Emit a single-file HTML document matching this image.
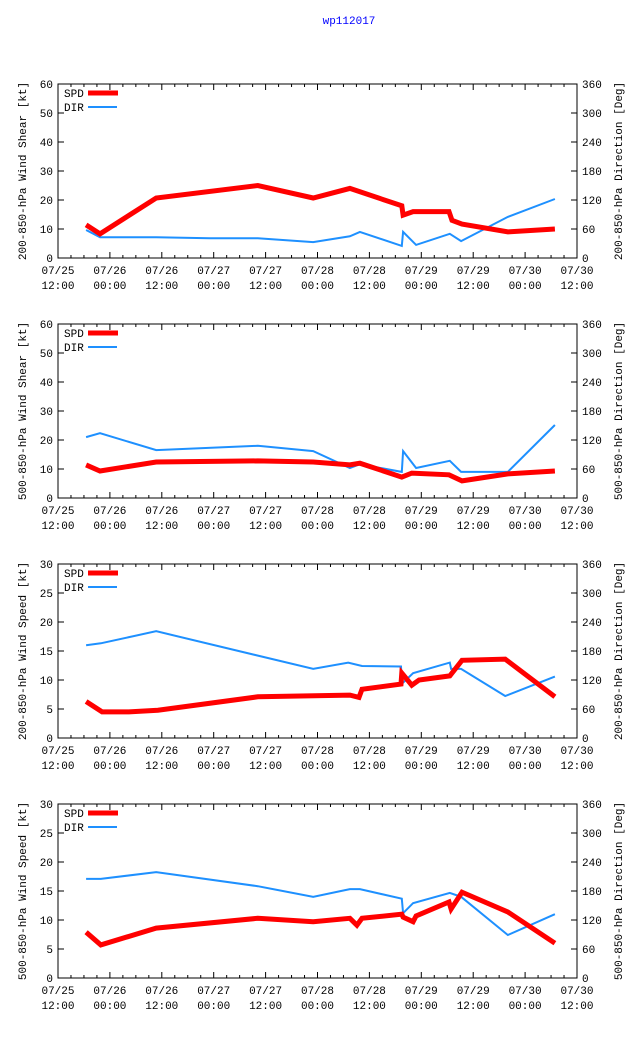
<!DOCTYPE html>
<html><head><meta charset="utf-8"><style>
body{margin:0;background:#fff;}
svg{display:block;font-family:"Liberation Mono","DejaVu Sans Mono",monospace;font-size:11px;}
</style></head><body>
<svg id="chart" width="640" height="1060" viewBox="0 0 640 1060">
<rect width="640" height="1060" fill="#fff"/>
<text x="349" y="24" text-anchor="middle" fill="#0000ff">wp112017</text>
</svg>
<script>
// x tick labels (every 12h from 07/25 12:00)
const xTickDates = ["07/25","07/26","07/26","07/27","07/27","07/28","07/28","07/29","07/29","07/30","07/30"];
const xTickTimes = ["12:00","00:00","12:00","00:00","12:00","00:00","12:00","00:00","12:00","00:00","12:00"];
const leftTitles = ["200-850-hPa Wind Shear [kt]","500-850-hPa Wind Shear [kt]","200-850-hPa Wind Speed [kt]","500-850-hPa Wind Speed [kt]"];
const rightTitles = ["200-850-hPa Direction [Deg]","500-850-hPa Direction [Deg]","200-850-hPa Direction [Deg]","500-850-hPa Direction [Deg]"];
const leftMax = [60,60,30,30];
const leftStep = [10,10,5,5];
// hours after 07/25 12:00
const spd1T = [6.5,9.7,22.7,46.2,59.0,67.5,79.5,79.8,82.1,90.4,91.1,93.4,104.0,114.9];
const spd1V = [11.4,8.3,20.7,25,20.7,24,18,14.8,16,16,13,11.7,9,10];
const dir1T = [6.5,9.7,22.7,35.1,46.2,59.0,67.5,69.8,79.5,79.8,82.8,90.6,93.2,104.0,114.9];
const dir1V = [58,43,43,41,41,33,45,54,25,54,27,50,35,85,122];
const spd2T = [6.5,9.7,22.7,46.2,59.0,67.5,69.8,79.5,81.8,90.4,93.4,104.0,114.9];
const spd2V = [11.4,9.3,12.4,12.8,12.4,11.4,12,7.2,8.6,8,5.9,8.3,9.3];
const dir2T = [6.5,9.7,22.7,46.2,59.0,67.5,69.8,79.5,79.8,82.8,90.6,93.2,104.0,114.9];
const dir2V = [126,134,99,108,97,62,70,54,97,62,77,54,54,151];
const spd3T = [6.5,10.2,16.4,23.1,46.2,67.5,69.6,70.3,79.3,79.5,81.8,83.5,90.6,93.4,103.4,114.9];
const spd3V = [6.3,4.5,4.5,4.8,7.1,7.4,7.0,8.4,9.3,11.2,9.1,10,10.7,13.4,13.6,7.1];
const dir3T = [6.5,9.9,22.7,59.0,67.1,70.3,79.3,79.5,82.1,90.6,90.9,93.2,103.4,114.9];
const dir3V = [192,196,221,143,156,149,148,112,134,156,143,143,87,127];
const spd4T = [6.5,9.9,22.7,46.2,59.0,67.5,69.1,70.3,79.5,79.8,82.1,82.8,90.4,90.9,93.4,104.0,114.9];
const spd4V = [7.9,5.7,8.6,10.3,9.7,10.3,9.1,10.3,11,10.5,9.7,10.7,13.1,11.9,14.8,11.4,6];
const dir4T = [6.5,9.9,22.7,46.2,59.0,67.5,69.8,79.5,79.8,82.1,90.6,93.2,104.0,114.9];
const dir4V = [205,205,219,190,168,184,184,164,134,155,176,168,89,132];

const spdT=[spd1T,spd2T,spd3T,spd4T], spdV=[spd1V,spd2V,spd3V,spd4V];
const dirT=[dir1T,dir2T,dir3T,dir4T], dirV=[dir1V,dir2V,dir3V,dir4V];
const NS="http://www.w3.org/2000/svg";
const svg=document.getElementById('chart');
const X0=58,X1=577,tops=[84,324,564,804],H=174;
function xs(h){return X0+h*(X1-X0)/120;}
function mk(tag,attrs,parent){const e=document.createElementNS(NS,tag);for(const k in attrs)e.setAttribute(k,attrs[k]);(parent||svg).appendChild(e);return e;}
for(let p=0;p<4;p++){
  const top=tops[p],bot=top+H;
  const g=mk('g',{});
  
  
  const ly=v=>bot-v*H/leftMax[p];
  const ry=v=>bot-v*H/360;
  for(let h=0;h<=120;h+=3){
    const x=xs(h),len=(h%12==0)?6:3;
    mk('line',{x1:x,y1:bot,x2:x,y2:bot-len,stroke:'#000'},g);
    mk('line',{x1:x,y1:top,x2:x,y2:top+len,stroke:'#000'},g);
  }
  for(let i=0;i<xTickDates.length;i++){
    const x=xs(i*12);
    const t=mk('text',{x:x,y:bot+16,'text-anchor':'middle'},g);t.textContent=xTickDates[i];
    
    
    const t2=mk('text',{x:x,y:bot+31,'text-anchor':'middle'},g);t2.textContent=xTickTimes[i];
  }
  for(let v=0;v<=leftMax[p];v+=leftStep[p]){
    const y=ly(v);
    mk('line',{x1:X0,y1:y,x2:X0+6,y2:y,stroke:'#000'},g);
    const t=mk('text',{x:X0-5,y:y+4,'text-anchor':'end'},g);t.textContent=v;
    
    
  }
  for(let v=0;v<=360;v+=60){
    const y=ry(v);
    mk('line',{x1:X1,y1:y,x2:X1-6,y2:y,stroke:'#000'},g);
    const t=mk('text',{x:X1+5,y:y+4},g);t.textContent=v;
    
    
  }
  const lt=mk('text',{x:0,y:0,'text-anchor':'middle',transform:`translate(26,${top+H/2}) rotate(-90)`},g);lt.textContent=leftTitles[p];
  
  
  const rt=mk('text',{x:0,y:0,'text-anchor':'middle',transform:`translate(622,${top+H/2}) rotate(-90)`},g);rt.textContent=rightTitles[p];
  
  
  const dp=dirT[p].map((h,i)=>xs(h).toFixed(1)+','+ry(dirV[p][i]).toFixed(1)).join(' ');
  const dl=mk('polyline',{points:dp,fill:'none',stroke:'#1e90ff','stroke-width':2,'stroke-linejoin':'miter'},g);
  
  
  const sp=spdT[p].map((h,i)=>xs(h).toFixed(1)+','+ly(spdV[p][i]).toFixed(1)).join(' ');
  const sl=mk('polyline',{points:sp,fill:'none',stroke:'#ff0000','stroke-width':5,'stroke-linejoin':'miter'},g);
  
  
  mk('rect',{x:X0,y:top,width:X1-X0,height:H,fill:'none',stroke:'#000'},g);
  const s1=mk('text',{x:64,y:top+13},g);s1.textContent='SPD';
  
  
  mk('line',{x1:88,y1:top+9,x2:118,y2:top+9,stroke:'#ff0000','stroke-width':5},g);
  const s2=mk('text',{x:64,y:top+27},g);s2.textContent='DIR';
  
  
  mk('line',{x1:88,y1:top+23,x2:117,y2:top+23,stroke:'#1e90ff','stroke-width':2},g);
}
</script>
</body></html>
